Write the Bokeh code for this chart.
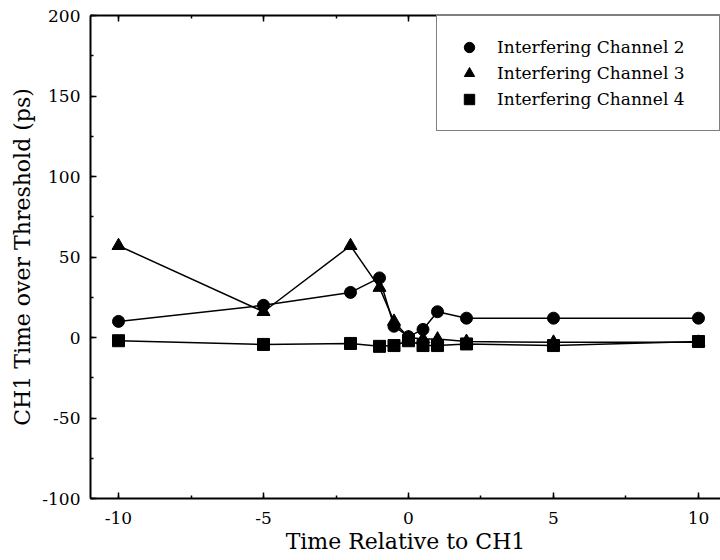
from bokeh.plotting import figure
from bokeh.models import (LinearAxis, Legend, LegendItem, SingleIntervalTicker,
                          Range1d, PrintfTickFormatter, CustomJSTickFormatter)
from bokeh.embed import file_html
from bokeh.resources import INLINE

# ---- data ----
times = [-10, -5, -2, -1, -0.5, 0, 0.5, 1, 2, 5, 10]
ch2 = [10, 20, 28, 37, 7, 0.5, 5, 16, 12, 12, 12]
ch3 = [57, 16, 57, 31, 10, 0, -1, -1, -2.5, -3, -3]
ch4 = [-2, -4.3, -3.7, -5.5, -5, -2, -5, -5, -4, -5, -2.5]
labels = ["Interfering Channel 2", "Interfering Channel 3", "Interfering Channel 4"]
markers = ["circle", "triangle", "square"]

FONT = "DejaVu Serif"

p = figure(width=720, height=560, output_backend="svg", toolbar_location=None,
           x_range=Range1d(-10.966, 10.759), y_range=Range1d(-100, 200),
           min_border_left=90, min_border_right=0, min_border_top=15,
           min_border_bottom=62)
p.outline_line_color = None
p.grid.visible = False
p.background_fill_color = "white"

def style_axis(ax):
    ax.axis_line_width = 2
    ax.axis_line_color = "black"
    ax.major_tick_in = 6
    ax.major_tick_out = 0
    ax.minor_tick_in = 3
    ax.minor_tick_out = 0
    ax.major_tick_line_width = 1.5
    ax.minor_tick_line_width = 1.5
    ax.major_label_text_font = FONT
    ax.major_label_text_color = "black"
    ax.axis_label_text_font = FONT
    ax.axis_label_text_font_style = "normal"
    ax.axis_label_text_color = "black"

p.xaxis.ticker = SingleIntervalTicker(interval=5, num_minor_ticks=2)
p.yaxis.ticker = SingleIntervalTicker(interval=50, num_minor_ticks=2)
p.xaxis.formatter = PrintfTickFormatter(format="%d")
p.yaxis.formatter = PrintfTickFormatter(format="%d")
style_axis(p.xaxis[0])
style_axis(p.yaxis[0])
p.xaxis.major_label_text_font_size = "17px"
p.yaxis.major_label_text_font_size = "17px"
p.xaxis.major_label_standoff = 13
p.yaxis.major_label_standoff = 10
p.xaxis.axis_label = "Time Relative to CH1"
p.yaxis.axis_label = "CH1 Time over Threshold (ps)"
p.xaxis.axis_label_text_font_size = "22px"
p.yaxis.axis_label_text_font_size = "22px"
p.xaxis.axis_label_standoff = 2
p.yaxis.axis_label_standoff = 4

top = LinearAxis(ticker=SingleIntervalTicker(interval=5, num_minor_ticks=2),
                 formatter=CustomJSTickFormatter(code="return ''"))
style_axis(top)
top.major_label_standoff = 0
p.add_layout(top, "above")

items = []
for ys, m, lab in zip([ch2, ch3, ch4], markers, labels):
    p.line(times, ys, line_color="black", line_width=1.5)
    r = p.scatter(times, ys, marker=m, size=12 if m != "triangle" else 13,
                  fill_color="black", line_color="black")
    items.append(LegendItem(label=lab, renderers=[r]))

legend = Legend(items=items, location="top_right")
legend.margin = 0
legend.padding = 18
legend.spacing = 0
legend.glyph_width = 28
legend.glyph_height = 26
legend.label_height = 26
legend.label_width = 204
legend.label_standoff = 14
legend.label_text_font = FONT
legend.label_text_font_size = "17px"
legend.label_text_color = "black"
legend.border_line_color = "black"
legend.border_line_width = 1.5
legend.background_fill_color = "white"
legend.background_fill_alpha = 1
p.add_layout(legend)

open("out.html", "w").write(file_html(p, INLINE))
